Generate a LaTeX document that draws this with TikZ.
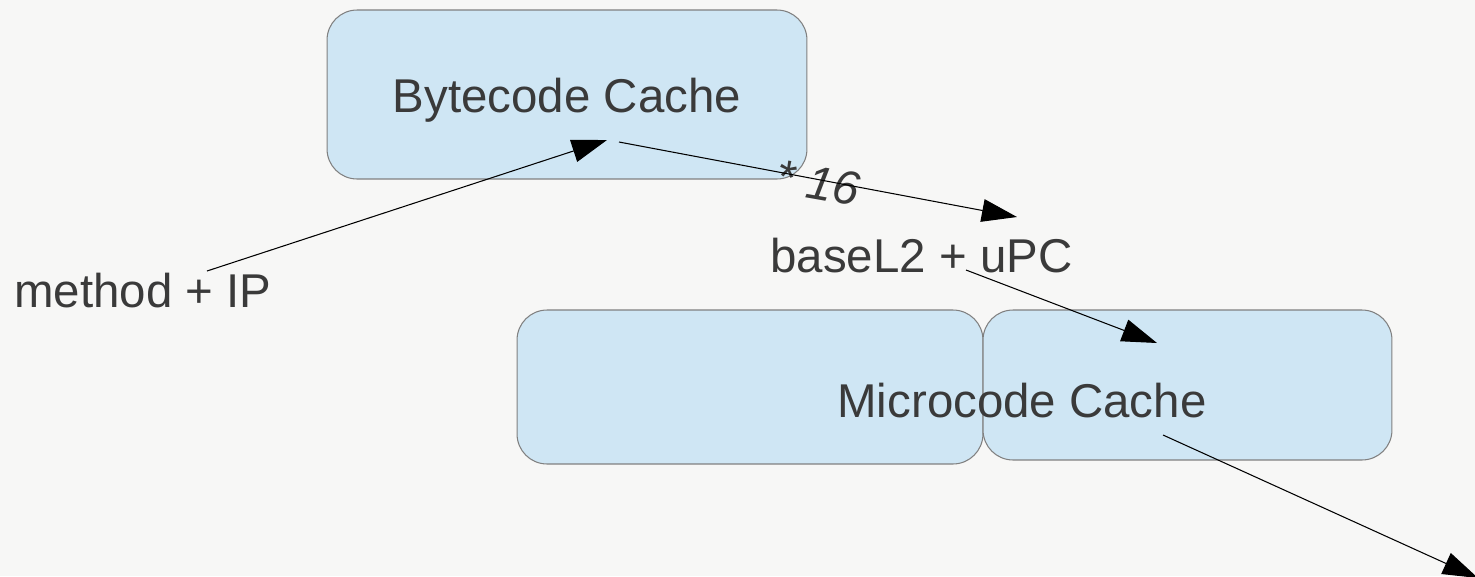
\documentclass[tikz,border=0pt]{standalone}
\usepackage{fontspec}
\setmainfont{Liberation Sans}
\usepackage{tikz}
\usetikzlibrary{positioning, arrows.meta}
\definecolor{bg}{RGB}{247,247,246}
\definecolor{cachefill}{RGB}{207,230,244}
\definecolor{cacheline}{RGB}{128,128,128}
\definecolor{txt}{RGB}{58,58,58}

\begin{document}
\begin{tikzpicture}[x=0.02cm, y=-0.02cm,
                    every node/.style = {text=txt, font=\fontsize{27}{32}\selectfont, inner sep=0pt},
                    cache/.style = {draw=cacheline, line width=0.6pt, fill=cachefill, rounded corners=0.6cm},
                    every edge/.style = {draw, line width=0.6pt, -{Triangle[length=20pt, width=13pt]}}]
                \fill[bg] (0,0) rectangle (1475,576);
                \useasboundingbox (0,0) rectangle (1475,576);
                \node (bc)  [cache, minimum width=9.6cm, minimum height=3.38cm] at (567,94.5) {};
                \node (mcl) [cache, minimum width=9.32cm, minimum height=3.08cm] at (750,387) {};
                \node (mcr) [cache, minimum width=8.18cm, minimum height=3.0cm] at (1187.5,385) {};
                \node (bct) [anchor=base] at (567,112) {Bytecode Cache};
                \node (mct) [anchor=base] at (1022,417) {Microcode Cache};
                \node (ip)  [anchor=base] at (143,307) {method + IP};
                \node (upc) [anchor=base] at (921.5,272) {baseL2 + uPC};
                \node (mul) [rotate=-10, font=\fontsize{27}{32}\selectfont\itshape] at (818,183) {* 16};
                \coordinate (ipout)  at (207,271);
                \coordinate (bcin)   at (607,140);
                \coordinate (bcout)  at (619,142);
                \coordinate (upcin)  at (1017,217);
                \coordinate (upcout) at (966,270);
                \coordinate (mcin)   at (1157,343);
                \coordinate (mcout)  at (1163,435);
                \coordinate (exit)   at (1478,578);
                \draw (ipout)  edge (bcin);
                \draw (bcout)  edge (upcin);
                \draw (upcout) edge (mcin);
                \draw (mcout)  edge (exit);
            \end{tikzpicture}
\end{document}
